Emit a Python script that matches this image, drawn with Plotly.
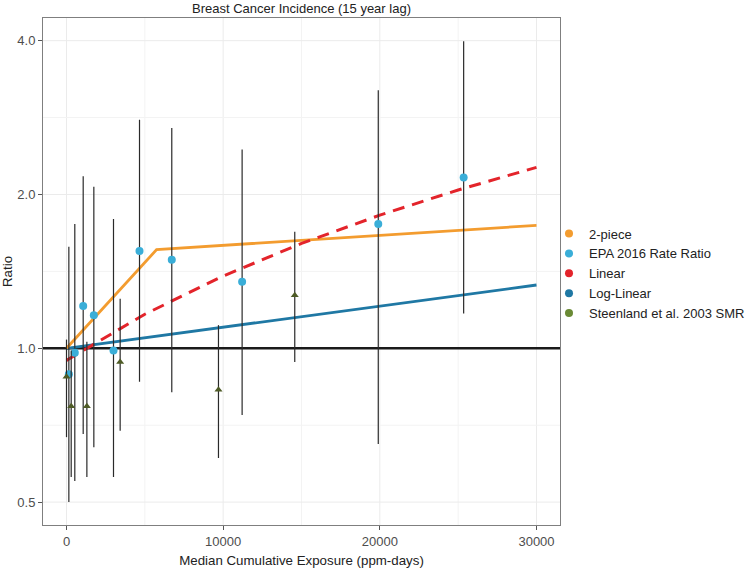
import math
import plotly.graph_objects as go

# ---- data ----
epa_x = [150, 530, 1065, 1745, 3000, 4660, 6720, 11210, 19900, 25350]
epa_rr = [0.89, 0.98, 1.21, 1.16, 0.99, 1.55, 1.49, 1.35, 1.75, 2.16]
epa_lo = [0.50, 0.55, 0.68, 0.64, 0.56, 0.86, 0.82, 0.74, 0.65, 1.17]
epa_hi = [1.58, 1.75, 2.17, 2.07, 1.79, 2.80, 2.70, 2.45, 3.20, 3.99]

st_x = [0, 300, 1300, 3425, 9700, 14570]
st_rr = [0.88, 0.77, 0.77, 0.94, 0.83, 1.27]
st_lo = [0.67, 0.56, 0.56, 0.69, 0.61, 0.94]
st_hi = [1.04, 0.99, 1.03, 1.25, 1.11, 1.69]

twopiece_x = [0, 5750, 30000]
twopiece_rr = [1.0, 1.56, 1.74]

loglin_x = [0, 30000]
loglin_rr = [1.0, 1.33]

linear_x = [0, 5000, 10000, 15000, 20000, 25000, 30000]
linear_rr = [0.947, 1.166, 1.385, 1.604, 1.822, 2.041, 2.26]

reference_ratio = 1.0

x_ticks = [0, 10000, 20000, 30000]
x_ticktext = ["0", "10000", "20000", "30000"]
x_minor = [5000, 15000, 25000]
y_ticks = [0.5, 1.0, 2.0, 4.0]
y_ticktext = ["0.5", "1.0", "2.0", "4.0"]
y_minor = [0.7071, 1.4142, 2.8284]

legend_names = ["2-piece", "EPA 2016 Rate Ratio", "Linear", "Log-Linear",
                "Steenland et al. 2003 SMR"]

# ---- styles ----
C_2P = "#F39C2F"
C_EPA = "#3AAED8"
C_LIN = "#E3242B"
C_LOG = "#1F78A4"
C_ST = "#4E5B26"
C_ST_LEG = "#6A8A35"
FONT = "Liberation Sans, Arial, sans-serif"
MAJOR_GRID = "#EBEBEB"
MINOR_GRID = "#F3F3F3"

fig = go.Figure()

# grid lines drawn as shapes under the data
for vals, col in ((x_minor, MINOR_GRID), (x_ticks, MAJOR_GRID)):
    for v in vals:
        fig.add_shape(type="line", xref="x", yref="paper", x0=v, x1=v, y0=0, y1=1,
                      line=dict(color=col, width=1), layer="below")
for vals, col in ((y_minor, MINOR_GRID), (y_ticks, MAJOR_GRID)):
    for v in vals:
        fig.add_shape(type="line", xref="paper", yref="y", x0=0, x1=1, y0=v, y1=v,
                      line=dict(color=col, width=1), layer="below")

fig.add_hline(y=reference_ratio, line=dict(color="#1a1a1a", width=2.6), layer="below")

fig.add_trace(go.Scatter(x=loglin_x, y=loglin_rr, mode="lines",
                         line=dict(color=C_LOG, width=2.8), showlegend=False, hoverinfo="skip"))
fig.add_trace(go.Scatter(x=twopiece_x, y=twopiece_rr, mode="lines",
                         line=dict(color=C_2P, width=2.8), showlegend=False, hoverinfo="skip"))
fig.add_trace(go.Scatter(x=linear_x, y=linear_rr, mode="lines",
                         line=dict(color=C_LIN, width=3, dash="12px,8px"),
                         showlegend=False, hoverinfo="skip"))

fig.add_trace(go.Scatter(
    x=epa_x, y=epa_rr, mode="markers",
    marker=dict(color=C_EPA, size=8),
    error_y=dict(type="data", symmetric=False,
                 array=[h - r for h, r in zip(epa_hi, epa_rr)],
                 arrayminus=[r - l for r, l in zip(epa_rr, epa_lo)],
                 width=0, thickness=1.2, color="#2a2a2a"),
    showlegend=False))
fig.add_trace(go.Scatter(
    x=st_x, y=st_rr, mode="markers",
    marker=dict(color=C_ST, size=7, symbol="triangle-up"),
    error_y=dict(type="data", symmetric=False,
                 array=[h - r for h, r in zip(st_hi, st_rr)],
                 arrayminus=[r - l for r, l in zip(st_rr, st_lo)],
                 width=0, thickness=1.2, color="#2a2a2a"),
    showlegend=False))

# legend keys
for name, col in zip(legend_names, [C_2P, C_EPA, C_LIN, C_LOG, C_ST_LEG]):
    fig.add_trace(go.Scatter(x=[None], y=[None], mode="markers", name=name,
                             marker=dict(color=col, size=8)))

axis_common = dict(
    showline=True, linecolor="#7f7f7f", linewidth=1, mirror=True,
    ticks="outside", ticklen=4, tickcolor="#555", tickwidth=1,
    showgrid=False, zeroline=False, automargin=False,
    tickfont=dict(size=13, color="#4d4d4d", family=FONT),
)

fig.update_layout(
    width=748, height=574,
    margin=dict(l=43, r=188, t=18, b=49, autoexpand=False),
    paper_bgcolor="white", plot_bgcolor="white",
    font=dict(family=FONT, color="#222"),
    title=dict(text="Breast Cancer Incidence (15 year lag)", x=0.5, xref="paper",
               xanchor="center", y=1 - 8 / 574, yref="container", yanchor="middle",
               font=dict(size=13, color="#222", family=FONT)),
    xaxis=dict(range=[-1500, 31500], tickvals=x_ticks, ticktext=x_ticktext,
               title=dict(text="Median Cumulative Exposure (ppm-days)",
                          font=dict(size=13.3, color="#222"), standoff=8),
               **axis_common),
    yaxis=dict(type="log", range=[math.log10(0.451), math.log10(4.43)],
               tickvals=y_ticks, ticktext=y_ticktext,
               title=dict(text="Ratio", font=dict(size=13.3, color="#222"), standoff=3),
               **axis_common),
    legend=dict(x=(549 - 43) / 517, xanchor="left", y=0.496, yanchor="middle",
                font=dict(size=13, color="#222", family=FONT),
                bgcolor="rgba(0,0,0,0)", itemwidth=30, tracegroupgap=0),
)

fig.write_html("out.html", config={"displayModeBar": False},
               post_script="document.body.style.margin='0';document.body.style.padding='0';")
